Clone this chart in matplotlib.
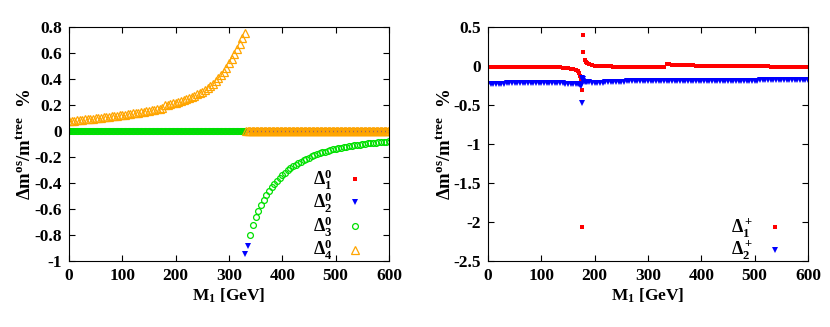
import numpy as np
import matplotlib
matplotlib.use('Agg')
import matplotlib.pyplot as plt

plt.rcParams['font.family'] = ['Liberation Serif', 'DejaVu Serif']
plt.rcParams['font.weight'] = 'bold'
plt.rcParams['mathtext.fontset'] = 'custom'
plt.rcParams['mathtext.rm'] = 'Liberation Serif:bold'
plt.rcParams['mathtext.it'] = 'Liberation Serif:bold'
plt.rcParams['mathtext.bf'] = 'Liberation Serif:bold'

# ---- left panel: neutral states ----
m_lo = np.arange(0, 331, 5)          # M1 scan below threshold
m_hi = np.arange(340, 601, 5)         # M1 scan above threshold
z_lo = np.arange(0, 330.1, 2.5)       # finer scan where corrections vanish
z_hi = np.arange(332.5, 600.1, 2.5)

d4_lo = [0.075, 0.078, 0.080, 0.083, 0.085, 0.088, 0.090, 0.092, 0.094, 0.096,
         0.098, 0.101, 0.103, 0.106, 0.108, 0.111, 0.113, 0.116, 0.118, 0.121,
         0.123, 0.126, 0.129, 0.132, 0.135, 0.138, 0.141, 0.144, 0.148, 0.151,
         0.155, 0.159, 0.163, 0.167, 0.172, 0.177, 0.198, 0.203, 0.208, 0.213,
         0.219, 0.225, 0.231, 0.238, 0.245, 0.253, 0.262, 0.271, 0.281, 0.291,
         0.302, 0.315, 0.330, 0.345, 0.363, 0.383, 0.405, 0.430, 0.457, 0.487,
         0.520, 0.555, 0.593, 0.632, 0.672, 0.712, 0.752]

d3_hi = [-0.800, -0.722, -0.665, -0.615, -0.570, -0.530, -0.494, -0.461, -0.432, -0.405,
         -0.381, -0.359, -0.338, -0.320, -0.303, -0.287, -0.272, -0.259, -0.246, -0.235,
         -0.224, -0.214, -0.204, -0.196, -0.187, -0.180, -0.172, -0.165, -0.159, -0.153,
         -0.147, -0.142, -0.137, -0.132, -0.128, -0.124, -0.120, -0.116, -0.113, -0.110,
         -0.107, -0.104, -0.101, -0.099, -0.096, -0.094, -0.092, -0.090, -0.088, -0.086,
         -0.084, -0.082, -0.080]

d2_mid_m = [331, 335]
d2_mid = [-0.948, -0.885]

# ---- right panel: charged states ----
mc = np.concatenate([np.arange(0, 170, 5),
                     [168, 171, 173, 174, 175, 176, 177, 178, 179, 181, 183, 186, 190, 195],
                     np.arange(200, 601, 5)])

c1 = [-0.018, -0.018, -0.017, -0.017, -0.016, -0.016, -0.015, -0.015, -0.014, -0.014,
      -0.013, -0.013, -0.012, -0.012, -0.011, -0.011, -0.010, -0.010, -0.009, -0.009,
      -0.009, -0.010, -0.011, -0.012, -0.013, -0.015, -0.017, -0.019, -0.021, -0.024,
      -0.027, -0.032, -0.040, -0.055,
      -0.07, -0.09, -0.13, -0.17, -0.22, -0.31, -2.06, 0.40, 0.175, 0.08,
      0.05, 0.035, 0.02, 0.01,
      0.005, 0.002, 0.000, -0.002, -0.004, -0.005, -0.006, -0.007, -0.008, -0.009,
      -0.010, -0.011, -0.011, -0.012, -0.012, -0.013, -0.013, -0.014, -0.014, -0.015,
      -0.015, -0.015, -0.016, -0.016, -0.016, -0.017, -0.017,
      0.022, 0.020, 0.018, 0.016, 0.014, 0.012, 0.011, 0.010, 0.009, 0.008,
      0.007, 0.006, 0.005, 0.004, 0.003, 0.002, 0.002, 0.001, 0.000, 0.000,
      -0.001, -0.001, -0.002, -0.002, -0.003, -0.003, -0.003, -0.004, -0.004, -0.004,
      -0.005, -0.005, -0.005, -0.005, -0.006, -0.006, -0.006, -0.006, -0.006, -0.007,
      -0.007, -0.007, -0.007, -0.007, -0.007, -0.008, -0.008, -0.008, -0.008, -0.008,
      -0.008, -0.008, -0.008, -0.008]

c2 = [-0.226, -0.226, -0.226, -0.225, -0.225, -0.225, -0.225, -0.224, -0.224, -0.224,
      -0.224, -0.223, -0.223, -0.223, -0.222, -0.222, -0.222, -0.221, -0.221, -0.221,
      -0.221, -0.221, -0.222, -0.222, -0.222, -0.223, -0.223, -0.224, -0.224, -0.225,
      -0.226, -0.227, -0.228, -0.230,
      -0.232, -0.235, -0.238, -0.242, -0.25, -0.16, -0.48, -0.17, -0.19, -0.20,
      -0.205, -0.208, -0.211, -0.213,
      -0.214, -0.214, -0.213, -0.212, -0.211, -0.210, -0.208, -0.206, -0.204, -0.202,
      -0.200, -0.199, -0.198, -0.197, -0.196, -0.196, -0.195, -0.195, -0.194, -0.194,
      -0.193, -0.193, -0.193, -0.192, -0.192, -0.192, -0.192, -0.191, -0.191, -0.191,
      -0.191, -0.190, -0.190, -0.190, -0.190, -0.190, -0.189, -0.189, -0.189, -0.189,
      -0.189, -0.188, -0.188, -0.188, -0.188, -0.188, -0.188, -0.187, -0.187, -0.187,
      -0.187, -0.187, -0.187, -0.186, -0.186, -0.186, -0.186, -0.186, -0.186, -0.186,
      -0.186, -0.186, -0.185, -0.185, -0.185, -0.185, -0.185, -0.185, -0.185, -0.185,
      -0.185, -0.185, -0.185, -0.184, -0.184, -0.184, -0.184, -0.184, -0.184, -0.184,
      -0.184]

left_yticks = [0.8, 0.6, 0.4, 0.2, 0, -0.2, -0.4, -0.6, -0.8, -1]
right_yticks = [0.5, 0, -0.5, -1, -1.5, -2, -2.5]
xticks = [0, 100, 200, 300, 400, 500, 600]

red, blue, green, orange = '#ff0000', '#0000ff', '#00e000', '#ffa500'

fig = plt.figure(figsize=(8.3, 3.27), dpi=100)
ax1 = fig.add_axes((0.0831, 0.2018, 0.3855, 0.7156))
ax2 = fig.add_axes((0.5880, 0.2018, 0.3855, 0.7156))


def style(ax, yt):
    ax.set_xlim(0, 600)
    ax.set_xticks(xticks)
    ax.set_xticklabels([str(t) for t in xticks], fontweight='bold')
    ax.set_yticks(yt)
    ax.set_yticklabels(['{:g}'.format(t) for t in yt], fontweight='bold')
    ax.set_ylim(yt[-1], yt[0])
    ax.tick_params(direction='in', top=True, right=True, length=4, width=0.8,
                   labelsize=12.5, pad=5)
    for s in ax.spines.values():
        s.set_linewidth(0.8)
    ax.set_xlabel(r'$\mathrm{M_1}$ [GeV]', fontsize=12.5, fontweight='bold', labelpad=2)
    ax.set_ylabel(r'$\mathrm{\Delta m^{os}/m^{tree}}$  %', fontsize=13.5,
                  fontweight='bold', labelpad=0)


def legend(ax, handles, labels, x0, y0):
    ax.legend(handles, labels, loc='lower right', bbox_to_anchor=(x0, y0),
              frameon=False, markerfirst=False, fontsize=13, handlelength=1.1,
              handletextpad=0.7, labelspacing=-0.05, borderpad=0.2)


# left: zero lines and curves
h1, = ax1.plot(np.concatenate([z_lo, z_hi]), np.zeros(len(z_lo) + len(z_hi)),
               's', color=red, ms=3.4, mew=0, linestyle='none')
h2, = ax1.plot(np.concatenate([z_lo, d2_mid_m, z_hi[3:]]),
               np.concatenate([np.zeros(len(z_lo)), d2_mid, np.zeros(len(z_hi) - 3)]),
               'v', color=blue, ms=4.5, mew=0, linestyle='none')
h3, = ax1.plot(np.concatenate([z_lo, m_hi]), np.concatenate([np.zeros(len(z_lo)), d3_hi]),
               'o', mfc='none', mec=green, ms=4.2, mew=0.9, linestyle='none')
h4, = ax1.plot(np.concatenate([m_lo, z_hi]),
               np.concatenate([d4_lo, np.zeros(len(z_hi))]),
               '^', mfc='none', mec=orange, ms=6, mew=0.9, linestyle='none')
style(ax1, left_yticks)
legend(ax1, [h1, h2, h3, h4],
       [r'$\Delta_1^0$', r'$\Delta_2^0$', r'$\Delta_3^0$', r'$\Delta_4^0$'], 0.965, -0.06)

# right panel
g1, = ax2.plot(mc, c1, 's', color=red, ms=3.4, mew=0, linestyle='none')
g2, = ax2.plot(mc, c2, 'v', color=blue, ms=4.5, mew=0, linestyle='none')
style(ax2, right_yticks)
legend(ax2, [g1, g2], [r'$\Delta_1^+$', r'$\Delta_2^+$'], 0.968, -0.06)

fig.savefig('out.png', dpi=100)
